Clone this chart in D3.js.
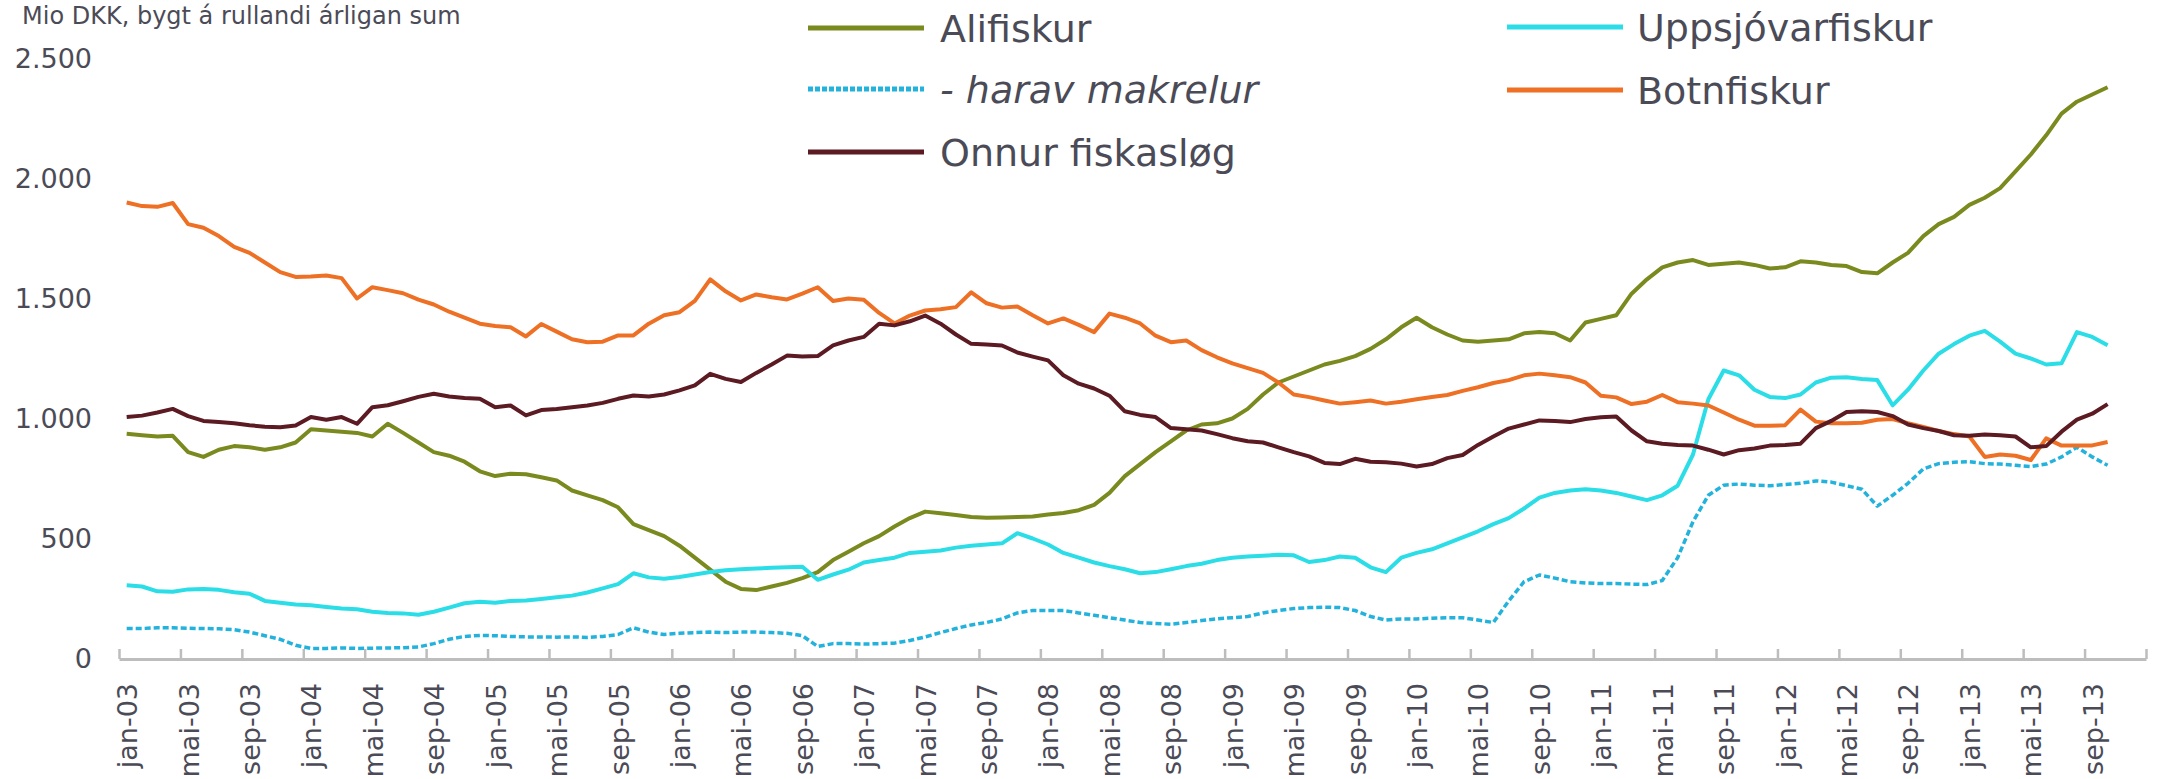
<!DOCTYPE html>
<html>
<head>
<meta charset="utf-8">
<script src="https://cdn.jsdelivr.net/npm/d3@7"></script>
<style>
  html, body { margin: 0; padding: 0; background: #ffffff; }
  svg { display: block; font-family: "DejaVu Sans", Verdana, sans-serif; }
</style>
</head>
<body>
<svg id="chart" width="2159" height="779"></svg>
<script>
// months jan-03 .. des-13 (data runs to okt-13)
const years = ['03', '04', '05', '06', '07', '08', '09', '10', '11', '12', '13'];
const monthNames = ['jan', 'feb', 'mar', 'apr', 'mai', 'jun', 'jul', 'aug', 'sep', 'okt', 'nov', 'des'];
const months = years.flatMap(y => monthNames.map(m => m + '-' + y));

const yTicks = [0, 500, 1000, 1500, 2000, 2500];

const alifiskur = [
  936, 930, 925, 928, 860, 840, 870, 885, 880, 870, 880, 900,
  955, 950, 945, 940, 925, 978, 940, 900, 860, 845, 820, 780,
  760, 770, 768, 755, 742, 700, 680, 660, 630, 560, 535, 510,
  470, 420, 370, 320, 290, 285, 300, 315, 335, 360, 410, 445,
  480, 510, 550, 585, 612, 605, 598, 590, 586, 588, 590, 592,
  600, 606, 618, 640, 690, 760, 810, 860, 905, 950, 975, 980,
  1000, 1040, 1100, 1150, 1175, 1200, 1225, 1240, 1260, 1290, 1330, 1380,
  1420, 1380, 1350, 1325, 1320, 1325, 1330, 1355, 1360, 1355, 1325, 1400,
  1415, 1430, 1520, 1580, 1630, 1650, 1660, 1640, 1645, 1650, 1640, 1625,
  1630, 1655, 1650, 1640, 1635, 1610, 1605, 1650, 1690, 1760, 1810, 1840,
  1890, 1920, 1960, 2030, 2100, 2180, 2270, 2320, 2350, 2380
];

const uppsjovarfiskur = [
  305, 300, 280, 278, 288, 290, 286, 276, 270, 240, 232, 225,
  222, 215, 208, 205, 195, 190, 188, 182, 195, 212, 230, 236,
  232, 240, 242, 248, 255, 262, 275, 292, 310, 355, 338, 332,
  340, 350, 360, 368, 372, 375, 378, 380, 382, 328, 350, 370,
  400, 410, 420, 440, 445, 450, 462, 470, 475, 480, 522, 500,
  475, 440, 420, 400, 385, 372, 355, 360, 372, 385, 395, 410,
  420, 425, 428, 432, 430, 402, 410, 425, 420, 380, 360, 420,
  440, 455, 480, 505, 530, 560, 585, 625, 670, 690, 700, 705,
  700, 690, 675, 660, 680, 720, 850, 1080, 1200, 1180, 1120, 1090,
  1085, 1100, 1150, 1170, 1172, 1165, 1160, 1055, 1120, 1200, 1270, 1310,
  1345, 1365, 1320, 1270, 1250, 1225, 1230, 1360, 1340, 1305
];

const makrelur = [
  125, 125, 128, 128, 126, 125, 124, 120, 110, 95, 80, 55,
  42, 42, 44, 42, 43, 44, 45, 48, 62, 80, 92, 96,
  95, 92, 90, 90, 89, 90, 88, 92, 100, 128, 110, 100,
  105, 108, 110, 108, 110, 110, 108, 105, 95, 50, 62, 62,
  60, 62, 64, 75, 90, 108, 125, 140, 150, 165, 190, 200,
  200, 200, 190, 180, 170, 160, 150, 146, 143, 150, 158, 165,
  170, 175, 190, 200, 208, 212, 214, 212, 200, 175, 160, 165,
  165, 168, 170, 170, 160, 150, 240, 320, 348, 335, 320, 315,
  312, 312, 310, 308, 325, 420, 570, 680, 722, 727, 722, 720,
  725, 730, 740, 735, 720, 705, 635, 680, 730, 790, 812, 818,
  820, 812, 810, 805, 800, 810, 840, 880, 840, 805
];

const botnfiskur = [
  1900, 1885, 1882, 1898, 1810, 1795, 1760, 1715, 1690, 1650, 1610, 1590,
  1592, 1596, 1585, 1500, 1547, 1535, 1522, 1495, 1475, 1445, 1420, 1395,
  1385, 1380, 1342, 1394, 1362, 1330, 1318, 1320, 1346, 1346, 1395, 1430,
  1443, 1490, 1580, 1530, 1492, 1517, 1505, 1496, 1520, 1547, 1490, 1500,
  1495, 1440, 1396, 1429, 1450, 1455, 1464, 1526, 1480, 1462, 1467, 1430,
  1396, 1417, 1390, 1360, 1437, 1420, 1396, 1345, 1318, 1325, 1285, 1255,
  1230, 1210, 1190, 1150, 1100, 1089, 1075, 1062, 1068, 1075, 1062, 1070,
  1080, 1090, 1098, 1115, 1130, 1148, 1160, 1180, 1187, 1180, 1172, 1150,
  1095, 1088, 1060, 1070, 1098, 1068, 1062, 1054, 1025, 995, 970, 970,
  972, 1037, 987, 980, 980, 982, 995, 998, 980, 965, 948, 935,
  925, 840, 850, 845, 827, 917, 887, 887, 888, 902
];

const onnur = [
  1006, 1012, 1025, 1040, 1010, 990, 985, 980, 972, 966, 964, 971,
  1006, 995, 1006, 978, 1047, 1055, 1072, 1090, 1103, 1092, 1085, 1082,
  1047, 1054, 1013, 1035, 1040, 1047, 1054, 1065, 1082, 1096, 1092, 1100,
  1117, 1138, 1186, 1165, 1152, 1190, 1225, 1262, 1258, 1260, 1305, 1325,
  1340, 1395, 1388, 1405, 1429, 1395, 1350, 1311, 1308, 1304, 1275, 1258,
  1242, 1180, 1145, 1125, 1095, 1030, 1015, 1006, 960, 955, 950, 935,
  918, 905, 900, 880, 860, 842, 815, 810, 832, 820, 818, 812,
  800, 810, 835, 848, 890, 925, 958, 975, 992, 990, 985, 998,
  1005, 1008, 950, 905, 895, 890, 887, 870, 850, 868, 875, 887,
  890, 895, 960, 990, 1027, 1030, 1027, 1010, 975, 960, 948, 930,
  928, 933, 930, 925, 880, 885, 945, 995, 1020, 1060
];

const series = [
  { name: 'Alifiskur', values: alifiskur, color: '#7b8a1e', dash: null, italic: false },
  { name: 'Uppsjóvarfiskur', values: uppsjovarfiskur, color: '#2bdde6', dash: null, italic: false },
  { name: '- harav makrelur', values: makrelur, color: '#22b2dc', dash: '6,3', italic: true },
  { name: 'Botnfiskur', values: botnfiskur, color: '#ee7024', dash: null, italic: false },
  { name: 'Onnur fiskasløg', values: onnur, color: '#5c1a22', dash: null, italic: false }
];

const textColor = '#4b4b57';
const svg = d3.select('#chart');

const plotLeft = 119;
const plotRight = 2146;
const y0 = 658.5;

const x = d3.scaleBand().domain(months).range([plotLeft, plotRight]).padding(0);
const xIdx = d3.scaleLinear().domain([0, months.length]).range([plotLeft, plotRight]);
const y = d3.scaleLinear().domain([0, 2500]).range([y0, 58.5]);

// title sits right at the top edge
svg.append('text')
  .attr('x', 22)
  .attr('y', 24)
  .attr('font-size', 24)
  .attr('fill', textColor)
  .text('Mio DKK, bygt á rullandi árligan sum');

// y axis labels
const yAxis = svg.append('g')
  .attr('transform', 'translate(92,0)')
  .call(d3.axisLeft(y).tickValues(yTicks).tickSize(0).tickPadding(0)
    .tickFormat(d => d3.format(',')(d).replace(',', '.')));
yAxis.select('.domain').remove();
yAxis.selectAll('text')
  .attr('font-family', '"DejaVu Sans", Verdana, sans-serif')
  .attr('font-size', 27)
  .attr('fill', textColor);

// lines
const line = d3.line()
  .x((d, i) => x(months[i]) + x.bandwidth() / 2)
  .y(d => y(d));

svg.append('g')
  .selectAll('path')
  .data(series)
  .join('path')
  .attr('d', d => line(d.values))
  .attr('fill', 'none')
  .attr('stroke', d => d.color)
  .attr('stroke-width', d => d.dash ? 3.5 : 4)
  .attr('stroke-dasharray', d => d.dash)
  .attr('stroke-linejoin', 'round');

// x axis: line with inward ticks between categories
const boundaries = d3.range(0, months.length + 1, 4);
const xAxis = svg.append('g')
  .attr('transform', `translate(0,${y0 + 0.5})`)
  .call(d3.axisBottom(xIdx).tickValues(boundaries).tickSize(-10).tickSizeOuter(0).tickFormat(''));
xAxis.select('.domain').attr('stroke', '#bdbdbd').attr('stroke-width', 3);
xAxis.selectAll('.tick line').attr('stroke', '#bdbdbd').attr('stroke-width', 2.5);

// x axis category labels, every fourth month
const labelAxis = svg.append('g')
  .attr('transform', `translate(0,${y0 + 0.5})`)
  .call(d3.axisBottom(x).tickValues(months.filter((d, i) => i % 4 === 0)).tickSize(0));
labelAxis.select('.domain').remove();
labelAxis.selectAll('text')
  .attr('transform', 'rotate(-90)')
  .attr('x', -24)
  .attr('y', 1)
  .attr('dy', '0.35em')
  .style('text-anchor', 'end')
  .attr('font-family', '"DejaVu Sans", Verdana, sans-serif')
  .attr('font-size', 27)
  .attr('fill', textColor);

// legend
const legendPos = [
  { x: 808, y: 28 },
  { x: 1507, y: 27 },
  { x: 808, y: 89 },
  { x: 1507, y: 90 },
  { x: 808, y: 152 }
];

const legend = svg.append('g')
  .selectAll('g')
  .data(series)
  .join('g')
  .attr('transform', (d, i) => `translate(${legendPos[i].x},${legendPos[i].y})`);

legend.append('line')
  .attr('x1', 0)
  .attr('x2', 116)
  .attr('stroke', d => d.color)
  .attr('stroke-width', 5)
  .attr('stroke-dasharray', d => d.dash ? '5,2' : null);

legend.append('text')
  .attr('x', (d, i) => i % 2 === 0 ? 132 : 130)
  .attr('y', 14)
  .attr('font-size', 38)
  .attr('font-style', d => d.italic ? 'italic' : 'normal')
  .attr('fill', textColor)
  .text(d => d.name);
</script>
</body>
</html>
